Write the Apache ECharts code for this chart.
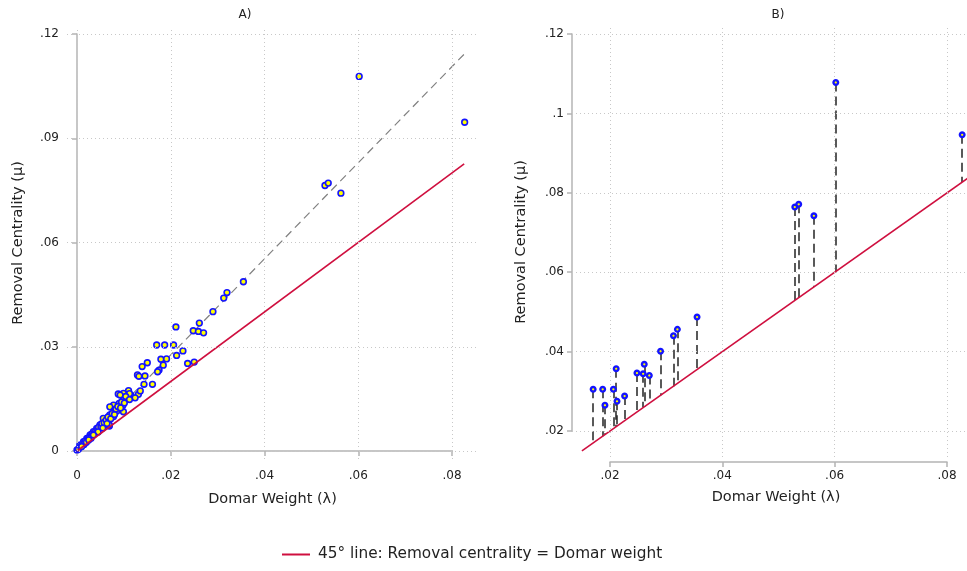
<!DOCTYPE html>
<html><head><meta charset="utf-8">
<script src="https://cdn.jsdelivr.net/npm/echarts@6/dist/echarts.min.js"></script>
<style>html,body{margin:0;padding:0;background:#fff}#c{width:967px;height:571px}</style>
</head><body><div id="c"></div>
<script>
// Points shown in both panels (Domar weight λ, removal centrality μ)
const lambdaTop = [0.0170,0.0187,0.0191,0.0206,0.0211,0.02125,0.0226,0.0248,0.0261,0.0259,0.0270,0.0290,0.0313,0.0320,0.0355,0.0529,0.0536,0.0563,0.0602,0.0827];
const muTop     = [0.0305,0.0305,0.0265,0.0305,0.0357,0.0275,0.0288,0.0346,0.0368,0.0344,0.0340,0.0401,0.0440,0.0456,0.0487,0.0764,0.0771,0.0742,0.1078,0.0946];
// Remaining points (panel A only)
const lambdaRest = [0.0236,0.0250,0.0150,0.0139,0.0179,0.0184,0.0175,0.0172,
  0.0129,0.0145,0.0143,0.0161,0.0110,0.0099,0.0088,0.0115,0.0131,0.0124,0.0106,0.0099,0.0090,0.0078,0.0070,
  0.0132,0.0135,0.0092,0.0081,0.0069,0.0112,
  0.0106,0.0098,0.0085,0.0099,0.0070,0.0078,0.0056,0.0069,0.0060,0.0049,0.0042,0.0035,0.0028,0.0021,0.0014,0.0006,0.0000,
  0.0003,0.0008,0.0011,0.0016,0.0018,0.0023,0.0026,0.0030,0.0032,0.0037,
  0.0040,0.0044,0.0046,0.0051,0.0053,0.0058,0.0062,0.0064,0.0066,0.0072,
  0.0075,0.0080,0.0083,0.0087,0.0093,0.0095,0.0101,0.0104,0.0112,
  0.0015,0.0030,0.0045,0.0055,0.0010,0.0020,0.0025,0.0035];
const muRest = [0.0252,0.0256,0.0254,0.0243,0.0264,0.0247,0.0233,0.0228,
  0.0219,0.0216,0.0192,0.0192,0.0174,0.0166,0.0164,0.0161,0.0163,0.0153,0.0152,0.0147,0.0137,0.0132,0.0127,
  0.0215,0.0173,0.0161,0.0118,0.0072,0.0165,
  0.0150,0.0132,0.0115,0.0113,0.0104,0.0099,0.0094,0.0075,0.0084,0.0075,0.0065,0.0056,0.0046,0.0036,0.0027,0.0017,0.0003,
  0.0005,0.0012,0.0019,0.0024,0.0029,0.0033,0.0039,0.0041,0.0049,0.0051,
  0.0058,0.0060,0.0068,0.0069,0.0079,0.0081,0.0089,0.0079,0.0098,0.0093,
  0.0108,0.0105,0.0121,0.0128,0.0124,0.0141,0.0138,0.0157,0.0148,
  0.0019,0.0037,0.0055,0.0066,0.0013,0.0025,0.0032,0.0046];
// Fitted (dashed) line in panel A
const fitLambda = [0, 0.0826];
const fitMu     = [0, 0.1142];
// 45° line ranges
const diagA = [0, 0.0826];
const diagB = [0.015, 0.086];
// Axis ticks
const xTicksA = [0, 0.02, 0.04, 0.06, 0.08];
const yTicksA = [0, 0.03, 0.06, 0.09, 0.12];
const xTicksB = [0.02, 0.04, 0.06, 0.08];
const yTicksB = [0.02, 0.04, 0.06, 0.08, 0.10, 0.12];
const legendName = '45° line: Removal centrality = Domar weight';
const xTitle = 'Domar Weight (λ)';
const yTitle = 'Removal Centrality (μ)';

const FONT = 'DejaVu Sans';
const RED = '#cf0f3f';
const AXC = '#b4b4b4';
const fmt = v => { if (Math.abs(v) < 1e-12) return '0'; return String(+v.toFixed(3)).replace(/^0\./, '.'); };

// Axis frames (pixel boxes of the tick ranges) and plot regions
const axA = {l:77, r:452, t:34, b:451, xr:[0,0.08], yr:[0,0.12]};
const plA = {l:67, r:478, t:27, b:459};
const axB = {l:610, r:947, t:34, b:431, xr:[0.02,0.08], yr:[0.02,0.12]};
const plB = {l:572, r:967, t:27, b:457};
function ext(ax, pl) {
  const sx = (ax.xr[1]-ax.xr[0])/(ax.r-ax.l), sy = (ax.yr[1]-ax.yr[0])/(ax.b-ax.t);
  return {xmin: ax.xr[0] + (pl.l-ax.l)*sx, xmax: ax.xr[0] + (pl.r-ax.l)*sx,
          ymin: ax.yr[0] - (pl.b-ax.b)*sy, ymax: ax.yr[0] + (ax.b-pl.t)*sy};
}
const eA = ext(axA, plA), eB = ext(axB, plB);
const gridOf = b => ({left:b.l, top:b.t, width:b.r-b.l, height:b.b-b.t, containLabel:false});

function frameAxis(min, max, idx, off, ticks) {
  return {gridIndex: idx, type:'value', min: min, max: max, interval: ticks[1]-ticks[0], offset: off,
    axisLine:{show:true, lineStyle:{color:AXC, width:1.5}}, axisTick:{show:true, length:5, lineStyle:{color:AXC, width:1.5}},
    axisLabel:{show:true, margin:8, color:'#222', fontFamily:FONT, fontSize:12, formatter: fmt}, splitLine:{show:false}};
}
function plotX(e, idx, shift) {
  return {gridIndex: idx, type:'value', min:e.xmin, max:e.xmax, axisLine:{show:false}, axisTick:{show:false},
    axisLabel:{show:false}, splitLine:{show:false}, name: xTitle, nameLocation:'middle', nameGap: 33,
    nameTextStyle:{fontFamily:FONT, fontSize:14.5, color:'#222', padding:[0,0,0,shift]}};
}
function plotY(e, idx, gap) {
  return {gridIndex: idx, type:'value', min:e.ymin, max:e.ymax, axisLine:{show:false}, axisTick:{show:false},
    axisLabel:{show:false}, splitLine:{show:false}, name: yTitle, nameLocation:'middle', nameGap: gap,
    nameTextStyle:{fontFamily:FONT, fontSize:14.5, color:'#222'}};
}
const gridLineStyle = {type:[1,3], color:'#c8c8c8', width:1};
function gridMarks(xt, yt) {
  return {silent:true, symbol:['none','none'], label:{show:false}, lineStyle: gridLineStyle, animation:false,
    data: xt.map(v => ({xAxis:v})).concat(yt.map(v => ({yAxis:v})))};
}

const ptsA = lambdaRest.map((l,i) => [l, muRest[i]]).concat(lambdaTop.map((l,i) => [l, muTop[i]]));
const ptsB = lambdaTop.map((l,i) => [l, muTop[i]]);
const drops = lambdaTop.map((l,i) => ({coords: [[l, muTop[i]], [l, l]]}));

const chart = echarts.init(document.getElementById('c'), null, {renderer:'canvas'});
chart.setOption({
  animation:false,
  backgroundColor:'#fff',
  textStyle:{fontFamily:FONT},
  title:[
    {text:'A)', left:240, top:4, textAlign:'center', textStyle:{fontFamily:FONT, fontSize:12, fontWeight:'normal', color:'#222'}},
    {text:'B)', left:773, top:4, textAlign:'center', textStyle:{fontFamily:FONT, fontSize:12, fontWeight:'normal', color:'#222'}}
  ],
  legend:{data:[legendName], left:282, top:547, padding:0, icon:'rect', itemWidth:28, itemHeight:2,
    textStyle:{fontFamily:FONT, fontSize:15.3, color:'#222', padding:[0,0,0,3]}, selectedMode:false},
  grid:[gridOf(axA), gridOf(plA), gridOf(axB), gridOf(plB)],
  xAxis:[frameAxis(axA.xr[0],axA.xr[1],0,plA.b-axA.b+3,xTicksA), plotX(eA,1,0),
         frameAxis(axB.xr[0],axB.xr[1],2,plB.b-axB.b+5,xTicksB), plotX(eB,3,13)],
  yAxis:[frameAxis(axA.yr[0],axA.yr[1],0,axA.l-plA.l,yTicksA), plotY(eA,1,41),
         frameAxis(axB.yr[0],axB.yr[1],2,axB.l-plB.l,yTicksB), plotY(eB,3,43)],
  series:[
    {type:'line', xAxisIndex:1, yAxisIndex:1, data:[], markLine: gridMarks(xTicksA, yTicksA), silent:true},
    {type:'line', xAxisIndex:3, yAxisIndex:3, data:[], markLine: gridMarks(xTicksB, yTicksB), silent:true},
    // Panel A
    {type:'line', xAxisIndex:1, yAxisIndex:1, data: fitLambda.map((l,i)=>[l, fitMu[i]]), symbol:'none', silent:true,
      lineStyle:{color:'#808080', width:1.2, type:[8,5]}, z:2},
    {type:'scatter', xAxisIndex:1, yAxisIndex:1, data: ptsA, symbol:'circle', symbolSize:5.7, silent:true,
      itemStyle:{color:'#ffff00', borderColor:'#1414ff', borderWidth:1.6, opacity:1}, z:3},
    {name:legendName, type:'line', xAxisIndex:1, yAxisIndex:1, data: diagA.map(v=>[v,v]), symbol:'none', silent:true,
      lineStyle:{color:RED, width:1.6}, itemStyle:{color:RED}, z:4},
    // Panel B
    {name:legendName, type:'line', xAxisIndex:3, yAxisIndex:3, data: diagB.map(v=>[v,v]), symbol:'none', silent:true,
      lineStyle:{color:RED, width:1.6}, itemStyle:{color:RED}, z:4},
    {type:'lines', coordinateSystem:'cartesian2d', xAxisIndex:3, yAxisIndex:3, data: drops, silent:true,
      lineStyle:{color:'#222222', width:1.5, type:[9,5], opacity:1}, z:3},
    {type:'scatter', xAxisIndex:3, yAxisIndex:3, data: ptsB, symbol:'circle', symbolSize:4.6, silent:true,
      itemStyle:{color:'#ffff00', borderColor:'#1414ff', borderWidth:2.4, opacity:1}, z:5}
  ]
});
</script></body></html>
